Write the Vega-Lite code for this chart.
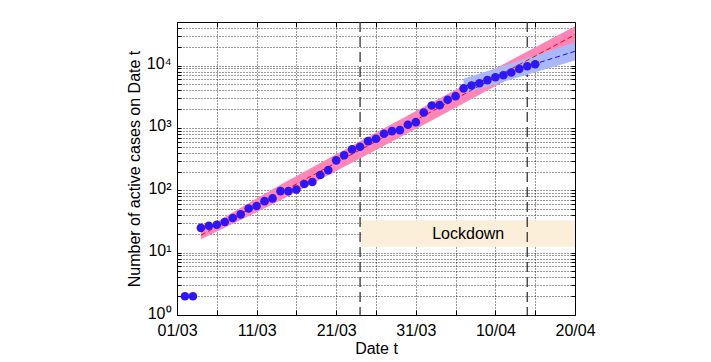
{
  "$schema": "https://vega.github.io/schema/vega-lite/v6.json",
  "autosize": "none",
  "width": 398,
  "height": 293,
  "padding": {"left": 177, "top": 22, "right": 136, "bottom": 47},
  "background": "white",
  "config": {
    "font": "Liberation Sans",
    "view": {"stroke": "#000", "strokeWidth": 1},
    "axis": {
      "labelFont": "Liberation Sans",
      "titleFont": "Liberation Sans",
      "labelFontSize": 16,
      "titleFontSize": 16,
      "titleFontWeight": "normal",
      "labelColor": "#000",
      "titleColor": "#000",
      "domainColor": "#000",
      "tickColor": "#000",
      "gridColor": "#000",
      "gridOpacity": 0.8,
      "gridDash": [1, 2],
      "gridWidth": 1
    }
  },
  "datasets": {
    "pts": [
      {"date": "2020-03-02", "cases": 2},
      {"date": "2020-03-03", "cases": 2},
      {"date": "2020-03-04", "cases": 25},
      {"date": "2020-03-05", "cases": 27},
      {"date": "2020-03-06", "cases": 28},
      {"date": "2020-03-07", "cases": 31},
      {"date": "2020-03-08", "cases": 36},
      {"date": "2020-03-09", "cases": 41},
      {"date": "2020-03-10", "cases": 51},
      {"date": "2020-03-11", "cases": 56},
      {"date": "2020-03-12", "cases": 67},
      {"date": "2020-03-13", "cases": 74},
      {"date": "2020-03-14", "cases": 97},
      {"date": "2020-03-15", "cases": 97},
      {"date": "2020-03-16", "cases": 103},
      {"date": "2020-03-17", "cases": 126},
      {"date": "2020-03-18", "cases": 136},
      {"date": "2020-03-19", "cases": 176},
      {"date": "2020-03-20", "cases": 211},
      {"date": "2020-03-21", "cases": 302},
      {"date": "2020-03-22", "cases": 365},
      {"date": "2020-03-23", "cases": 453},
      {"date": "2020-03-24", "cases": 500},
      {"date": "2020-03-25", "cases": 615},
      {"date": "2020-03-26", "cases": 671},
      {"date": "2020-03-27", "cases": 807},
      {"date": "2020-03-28", "cases": 889},
      {"date": "2020-03-29", "cases": 922},
      {"date": "2020-03-30", "cases": 1125},
      {"date": "2020-03-31", "cases": 1238},
      {"date": "2020-04-01", "cases": 1770},
      {"date": "2020-04-02", "cases": 2291},
      {"date": "2020-04-03", "cases": 2317},
      {"date": "2020-04-04", "cases": 2826},
      {"date": "2020-04-05", "cases": 3228},
      {"date": "2020-04-06", "cases": 4300},
      {"date": "2020-04-07", "cases": 4786},
      {"date": "2020-04-08", "cases": 5212},
      {"date": "2020-04-09", "cases": 5850},
      {"date": "2020-04-10", "cases": 6500},
      {"date": "2020-04-11", "cases": 7000},
      {"date": "2020-04-12", "cases": 7750},
      {"date": "2020-04-13", "cases": 8850},
      {"date": "2020-04-14", "cases": 9750},
      {"date": "2020-04-15", "cases": 10500}
    ],
    "redfit": [
      {"date": "2020-03-04", "fit": 19.05, "lo": 16.41, "hi": 22.13},
      {"date": "2020-03-09", "fit": 41.88, "lo": 33.27, "hi": 52.72},
      {"date": "2020-03-14", "fit": 92.0, "lo": 69.02, "hi": 122.7},
      {"date": "2020-03-24", "fit": 444.6, "lo": 322.1, "hi": 613.8},
      {"date": "2020-04-03", "fit": 2148, "lo": 1538, "hi": 2999},
      {"date": "2020-04-13", "fit": 10375, "lo": 7516, "hi": 14322},
      {"date": "2020-04-20", "fit": 31260, "lo": 22909, "hi": 42658}
    ],
    "bluefit": [
      {"date": "2020-04-06", "fit": 4645, "lo": 3524, "hi": 6124},
      {"date": "2020-04-13", "fit": 8872, "lo": 6577, "hi": 11967},
      {"date": "2020-04-20", "fit": 16940, "lo": 12078, "hi": 23768}
    ],
    "lock": [
      {"start": "2020-03-24T04:00:00Z", "end": "2020-04-20", "low": 12.4, "high": 33, "mid": "2020-04-06T14:00:00Z", "ty": 20, "label": "Lockdown"}
    ],
    "vlines": [
      {"date": "2020-03-24"},
      {"date": "2020-04-14"}
    ]
  },
  "layer": [
    {
      "encoding": {
        "x": {
          "field": "date",
          "type": "temporal",
          "scale": {"type": "utc", "domain": [{"year": 2020, "month": 3, "date": 1, "utc": true}, {"year": 2020, "month": 4, "date": 20, "utc": true}]},
          "axis": {
            "title": "Date t",
            "titlePadding": 2,
            "grid": true,
            "tickSize": -5,
            "labelPadding": 12,
            "labelFlush": false,
            "labelOverlap": false,
            "values": [
              {"year": 2020, "month": 3, "date": 1, "utc": true},
              {"year": 2020, "month": 3, "date": 6, "utc": true},
              {"year": 2020, "month": 3, "date": 11, "utc": true},
              {"year": 2020, "month": 3, "date": 16, "utc": true},
              {"year": 2020, "month": 3, "date": 21, "utc": true},
              {"year": 2020, "month": 3, "date": 26, "utc": true},
              {"year": 2020, "month": 3, "date": 31, "utc": true},
              {"year": 2020, "month": 4, "date": 5, "utc": true},
              {"year": 2020, "month": 4, "date": 10, "utc": true},
              {"year": 2020, "month": 4, "date": 15, "utc": true},
              {"year": 2020, "month": 4, "date": 20, "utc": true}
            ],
            "labelExpr": "(round((datum.value - utc(2020,2,1)) / 86400000) % 10 == 0) ? utcFormat(datum.value, '%d/%m') : ''"
          }
        }
      },
      "layer": [
        {
          "data": {"name": "lock"},
          "mark": {"type": "rect", "color": "#fcefd9"},
          "encoding": {
            "x": {"field": "start", "type": "temporal"},
            "x2": {"field": "end"},
            "y": {"field": "low", "type": "quantitative"},
            "y2": {"field": "high"}
          }
        },
        {
          "data": {"name": "lock"},
          "mark": {"type": "text", "fontSize": 16, "color": "#000", "align": "center", "baseline": "middle"},
          "encoding": {
            "x": {"field": "mid", "type": "temporal"},
            "y": {"field": "ty", "type": "quantitative"},
            "text": {"field": "label"}
          }
        },
        {
          "data": {"name": "vlines"},
          "mark": {"type": "rule", "color": "#333", "strokeWidth": 1.3, "strokeDash": [10, 5]},
          "encoding": {
            "x": {"field": "date", "type": "temporal"}
          }
        },
        {
          "data": {"name": "redfit"},
          "mark": {"type": "area", "color": "#ff86b6", "opacity": 1},
          "encoding": {
            "y": {"field": "lo", "type": "quantitative"},
            "y2": {"field": "hi"}
          }
        },
        {
          "data": {"name": "bluefit"},
          "mark": {"type": "area", "color": "#aab8fb", "opacity": 1},
          "encoding": {
            "y": {"field": "lo", "type": "quantitative"},
            "y2": {"field": "hi"}
          }
        },
        {
          "data": {"name": "redfit"},
          "mark": {"type": "line", "color": "#ff0000", "strokeWidth": 1, "strokeDash": [5, 3]},
          "encoding": {
            "y": {"field": "fit", "type": "quantitative"}
          }
        },
        {
          "data": {"name": "bluefit"},
          "mark": {"type": "line", "color": "#1010ff", "strokeWidth": 1, "strokeDash": [5, 3]},
          "encoding": {
            "y": {"field": "fit", "type": "quantitative"}
          }
        },
        {
          "data": {"name": "pts"},
          "mark": {"type": "point", "filled": true, "color": "#2f16f2", "opacity": 1, "size": 75},
          "encoding": {
            "y": {
              "field": "cases",
              "type": "quantitative",
              "scale": {"type": "log", "domain": [1, 50000], "nice": false},
              "axis": {
                "title": "Number of active cases on Date t",
                "titlePadding": 4,
                "grid": true,
                "tickSize": -4,
                "labelPadding": 10,
                "labelOffset": -2,
                "labelFlush": false,
                "labelOverlap": false,
                "values": [1,2,3,4,5,6,7,8,9,10,20,30,40,50,60,70,80,90,100,200,300,400,500,600,700,800,900,1000,2000,3000,4000,5000,6000,7000,8000,9000,10000,20000,30000,40000,50000],
                "labelExpr": "datum.value == 1 ? '10⁰' : datum.value == 10 ? '10¹' : datum.value == 100 ? '10²' : datum.value == 1000 ? '10³' : datum.value == 10000 ? '10⁴' : ''"
              }
            }
          }
        }
      ]
    },
    {
      "data": {"name": "pts"},
      "mark": {"type": "point", "opacity": 0},
      "encoding": {
        "x": {
          "field": "date",
          "type": "temporal",
          "axis": {
            "orient": "top",
            "title": null,
            "labels": false,
            "grid": false,
            "domain": false,
            "tickSize": -5,
            "values": [
              {"year": 2020, "month": 3, "date": 6, "utc": true},
              {"year": 2020, "month": 3, "date": 11, "utc": true},
              {"year": 2020, "month": 3, "date": 16, "utc": true},
              {"year": 2020, "month": 3, "date": 21, "utc": true},
              {"year": 2020, "month": 3, "date": 26, "utc": true},
              {"year": 2020, "month": 3, "date": 31, "utc": true},
              {"year": 2020, "month": 4, "date": 5, "utc": true},
              {"year": 2020, "month": 4, "date": 10, "utc": true},
              {"year": 2020, "month": 4, "date": 15, "utc": true}
            ]
          }
        },
        "y": {
          "field": "cases",
          "type": "quantitative",
          "axis": {
            "orient": "right",
            "title": null,
            "labels": false,
            "grid": false,
            "domain": false,
            "tickSize": -4,
            "values": [2,3,4,5,6,7,8,9,10,20,30,40,50,60,70,80,90,100,200,300,400,500,600,700,800,900,1000,2000,3000,4000,5000,6000,7000,8000,9000,10000,20000,30000,40000]
          }
        }
      }
    }
  ],
  "resolve": {"axis": {"x": "independent", "y": "independent"}}
}
